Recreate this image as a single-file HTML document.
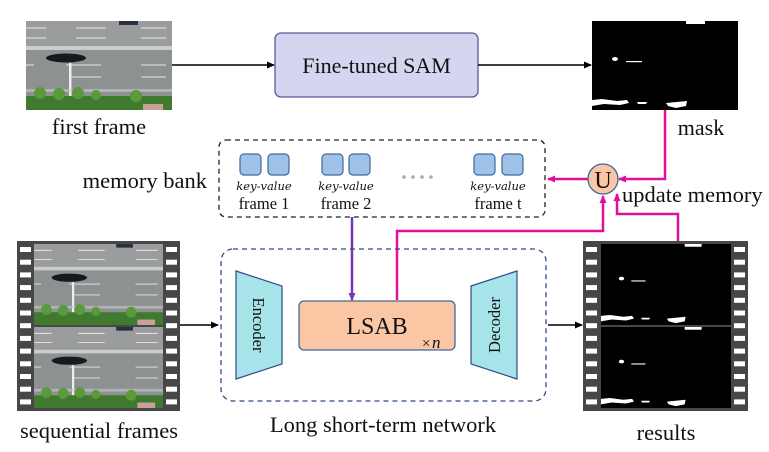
<!DOCTYPE html>
<html><head><meta charset="utf-8"><style>
html,body{margin:0;padding:0;background:#fff;}
svg{display:block;}
text{font-family:"Liberation Serif","Times New Roman",serif;fill:#111;}
</style></head><body>
<svg width="769" height="452" viewBox="0 0 769 452" xmlns="http://www.w3.org/2000/svg" font-family="Liberation Serif, serif">
<defs>
<marker id="ab" markerWidth="8" markerHeight="8" refX="7" refY="4" orient="auto" markerUnits="userSpaceOnUse"><path d="M0,0.5 L8,4 L0,7.5 Z" fill="#000"/></marker>
<marker id="am" markerWidth="8" markerHeight="8" refX="7" refY="4" orient="auto" markerUnits="userSpaceOnUse"><path d="M0,0.5 L8,4 L0,7.5 Z" fill="#e0109a"/></marker>
<marker id="ap" markerWidth="8" markerHeight="8" refX="7" refY="4" orient="auto" markerUnits="userSpaceOnUse"><path d="M0,0.5 L8,4 L0,7.5 Z" fill="#7b35b0"/></marker>
<symbol id="road" viewBox="0 0 146 89" preserveAspectRatio="none">
<rect width="146" height="89" fill="#8e9192"/>
<rect y="0" width="146" height="28" fill="#9a9c9d"/>
<rect x="93" y="0" width="19" height="4" fill="#2a3040"/>
<g stroke="#e8e8e8" stroke-width="1"><line x1="0" y1="7" x2="20" y2="7"/><line x1="50" y1="7" x2="80" y2="7"/><line x1="115" y1="7" x2="140" y2="7"/><line x1="0" y1="17" x2="20" y2="17"/><line x1="50" y1="17" x2="80" y2="17"/><line x1="115" y1="17" x2="140" y2="17"/><line x1="0" y1="44" x2="8" y2="44"/><line x1="40" y1="44" x2="75" y2="44"/><line x1="115" y1="44" x2="140" y2="44"/><line x1="45" y1="56" x2="75" y2="56"/><line x1="115" y1="56" x2="140" y2="56"/></g>
<rect y="25" width="146" height="4" fill="#c9cfc6"/>
<ellipse cx="40" cy="37" rx="20" ry="4.5" fill="#151a1e"/>
<rect x="43" y="42" width="2.5" height="47" fill="#eee"/>
<rect y="68" width="146" height="3" fill="#c8c8c8" opacity="0.6"/>
<rect y="75" width="146" height="14" fill="#3f7a2e"/>
<g fill="#5a9a3a"><circle cx="14" cy="72" r="6"/><circle cx="33" cy="73" r="6"/><circle cx="52" cy="72" r="6"/><circle cx="70" cy="74" r="5"/><circle cx="110" cy="75" r="6"/></g>
<rect x="117" y="83" width="20" height="6" fill="#c9a09a"/>
</symbol>
<symbol id="mask" viewBox="0 0 146 89" preserveAspectRatio="none">
<rect width="146" height="89" fill="#000"/>
<rect x="94" y="0" width="19" height="3" fill="#fff"/>
<ellipse cx="23" cy="38" rx="3" ry="2" fill="#fff"/>
<rect x="34" y="40" width="16" height="1.2" fill="#fff"/>
<path d="M0,79 L10,78 L25,80 L35,79 L37,82 L28,84 L12,83 L0,85 Z M45,81 L55,81 L54,83 L46,83 Z M74,82 L95,80 L94,85 L84,87 L76,85 Z" fill="#fff"/>
</symbol>
<g id="holes" fill="#fff">
<rect x="0" y="0" width="11" height="5"/><rect x="0" y="12.7" width="11" height="5"/><rect x="0" y="25.4" width="11" height="5"/><rect x="0" y="38.1" width="11" height="5"/><rect x="0" y="50.8" width="11" height="5"/><rect x="0" y="63.5" width="11" height="5"/><rect x="0" y="76.2" width="11" height="5"/><rect x="0" y="88.9" width="11" height="5"/><rect x="0" y="101.6" width="11" height="5"/><rect x="0" y="114.3" width="11" height="5"/><rect x="0" y="127" width="11" height="5"/><rect x="0" y="139.7" width="11" height="5"/><rect x="0" y="152.4" width="11" height="5"/>
</g>
</defs>

<use href="#road" x="26" y="21" width="146" height="89"/>
<text x="99" y="134" font-size="22.5" text-anchor="middle">first frame</text>
<line x1="172" y1="65" x2="274" y2="65" stroke="#000" stroke-width="1.6" marker-end="url(#ab)"/>
<rect x="275" y="33" width="203" height="64" rx="6" fill="#d5d5ef" stroke="#5a5a96" stroke-width="1.3"/>
<text x="376.5" y="73" font-size="22" text-anchor="middle">Fine-tuned SAM</text>
<line x1="478" y1="65" x2="591" y2="65" stroke="#000" stroke-width="1.6" marker-end="url(#ab)"/>
<use href="#mask" x="592" y="21" width="146" height="89"/>
<text x="701" y="135" font-size="22" text-anchor="middle">mask</text>

<text x="207" y="188" font-size="22.5" text-anchor="end">memory bank</text>
<rect x="219" y="140" width="326" height="77" rx="7" fill="none" stroke="#222" stroke-width="1.3" stroke-dasharray="5,4"/>
<g fill="#9fc3e8" stroke="#41679e" stroke-width="1.2">
<rect x="240" y="154" width="21" height="21" rx="4"/><rect x="268" y="154" width="21" height="21" rx="4"/>
<rect x="322" y="154" width="21" height="21" rx="4"/><rect x="349" y="154" width="21" height="21" rx="4"/>
<rect x="474" y="154" width="21" height="21" rx="4"/><rect x="502" y="154" width="21" height="21" rx="4"/>
</g>
<g fill="#aaa"><circle cx="404" cy="177" r="1.8"/><circle cx="413" cy="177" r="1.8"/><circle cx="422" cy="177" r="1.8"/><circle cx="431" cy="177" r="1.8"/></g>
<g font-size="11.5" font-style="italic" text-anchor="middle">
<text x="264" y="190" style="font-family:'DejaVu Serif',serif">key-value</text>
<text x="346" y="190" style="font-family:'DejaVu Serif',serif">key-value</text>
<text x="498" y="190" style="font-family:'DejaVu Serif',serif">key-value</text>
</g>
<g font-size="16.5" text-anchor="middle">
<text x="264" y="209">frame 1</text><text x="346" y="209">frame 2</text><text x="498" y="209">frame t</text>
</g>

<polyline points="665,110 665,179 619,179" fill="none" stroke="#e0109a" stroke-width="2.5" marker-end="url(#am)"/>
<line x1="588" y1="179" x2="548" y2="179" stroke="#e0109a" stroke-width="2.5" marker-end="url(#am)"/>
<circle cx="603" cy="179" r="15" fill="#fbc6a4" stroke="#41679e" stroke-width="1.3"/>
<text x="603" y="188" font-size="24" text-anchor="middle">U</text>
<text x="622" y="202" font-size="22.5">update memory</text>
<polyline points="397,300 397,231 603,231 603,196" fill="none" stroke="#e0109a" stroke-width="2.5" marker-end="url(#am)"/>
<polyline points="678,241 678,214 617,214 617,194" fill="none" stroke="#e0109a" stroke-width="2.5" marker-end="url(#am)"/>
<line x1="352" y1="217" x2="352" y2="300" stroke="#7b35b0" stroke-width="2.5" marker-end="url(#ap)"/>

<rect x="17" y="241" width="163" height="170" fill="#474747"/>
<use href="#holes" x="20" y="247"/>
<use href="#holes" x="166" y="247"/>
<use href="#road" x="34" y="244" width="129" height="81"/>
<use href="#road" x="34" y="327" width="129" height="81"/>
<text x="99" y="438" font-size="22.5" text-anchor="middle">sequential frames</text>
<line x1="180" y1="325" x2="218" y2="325" stroke="#000" stroke-width="1.6" marker-end="url(#ab)"/>

<rect x="221" y="249" width="325" height="152" rx="12" fill="none" stroke="#2f4c85" stroke-width="1.3" stroke-dasharray="5,4"/>
<polygon points="236,271 282,286 282,364 236,379" fill="#a6e4ea" stroke="#2f4c85" stroke-width="1.2"/>
<text transform="translate(253,325) rotate(90)" font-size="16.5" text-anchor="middle">Encoder</text>
<polygon points="471,286 517,271 517,379 471,364" fill="#a6e4ea" stroke="#2f4c85" stroke-width="1.2"/>
<text transform="translate(500,325) rotate(-90)" font-size="16.5" text-anchor="middle">Decoder</text>
<rect x="299" y="301" width="156" height="49" rx="5" fill="#fbc6a4" stroke="#41679e" stroke-width="1.3"/>
<text x="377" y="334" font-size="24" text-anchor="middle">LSAB</text>
<text x="422" y="348" font-size="15">×</text><text x="432" y="348" font-size="17" font-style="italic">n</text>
<text x="383" y="432" font-size="22.5" text-anchor="middle">Long short-term network</text>
<line x1="548" y1="325" x2="582" y2="325" stroke="#000" stroke-width="1.6" marker-end="url(#ab)"/>

<rect x="583" y="241" width="165" height="170" fill="#474747"/>
<use href="#holes" x="586" y="247"/>
<use href="#holes" x="734" y="247"/>
<use href="#mask" x="601" y="244" width="130" height="81"/>
<use href="#mask" x="601" y="327" width="130" height="81"/>
<text x="666" y="440" font-size="22.5" text-anchor="middle">results</text>
</svg>
</body></html>
